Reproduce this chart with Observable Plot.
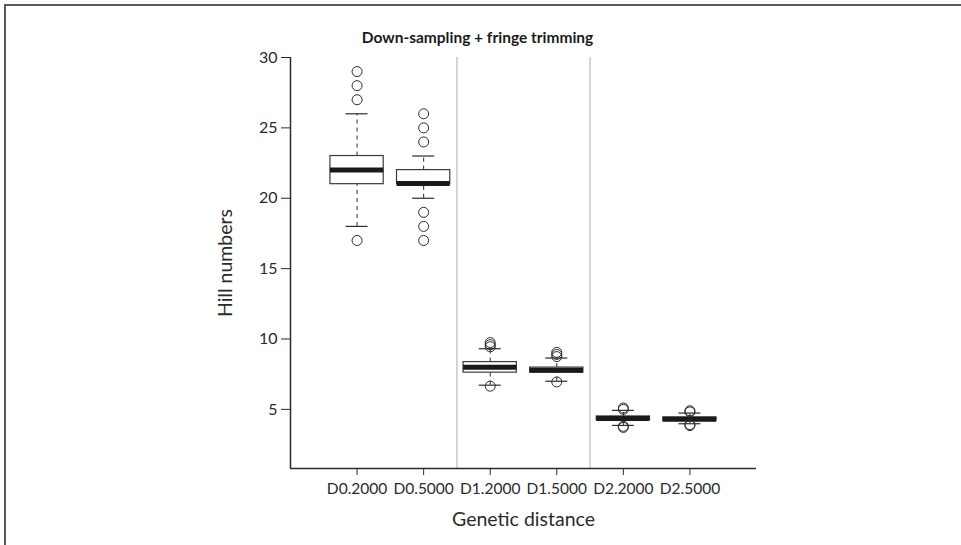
<!DOCTYPE html>
<html>
<head>
<meta charset="utf-8">
<script src="https://cdn.jsdelivr.net/npm/d3@7"></script>
<script src="https://cdn.jsdelivr.net/npm/@observablehq/plot@0.6"></script>
<style>
  html, body { margin: 0; padding: 0; background: #fff; }
  #wrap { position: relative; width: 961px; height: 545px; overflow: hidden; }
  #frame { position: absolute; left: 4px; top: 4px; right: -10px; bottom: -10px;
           border-top: 2px solid #5a5a5a; border-left: 2px solid #5a5a5a; pointer-events: none; }
  #chart { position: absolute; left: 0; top: 0; }
</style>
</head>
<body>
<div id="wrap"><div id="chart"></div><div id="frame"></div></div>
<script>
const titleText = "Down-sampling + fringe trimming";
const xLabel = "Genetic distance";
const yLabel = "Hill numbers";
const categories = ["D0.2000", "D0.5000", "D1.2000", "D1.5000", "D2.2000", "D2.5000"];
const q1 =      [21,   21,   7.61, 7.62, 4.24, 4.17];
const medians = [22,   21.05, 8.0, 7.78, 4.36, 4.3];
const q3 =      [23,   22,   8.36, 7.97, 4.5,  4.43];
const whiskerLow =  [18, 20, 6.72, 7.0,  3.86, 3.98];
const whiskerHigh = [26, 23, 9.31, 8.65, 4.93, 4.74];
const outliers = [
  [29, 28, 27, 17],
  [26, 25, 24, 19, 18, 17],
  [9.45, 9.6, 9.75, 6.65],
  [8.75, 8.9, 9.05, 6.95],
  [5.0, 5.1, 3.8, 3.72],
  [4.82, 4.9, 3.92, 3.85]
];
const yTicks = [5, 10, 15, 20, 25, 30];
const groupBreaks = [2.5, 4.5];
const yDomain = [0.8, 30];

const boxes = categories.map((c, i) => ({
  pos: i + 1, label: c, q1: q1[i], med: medians[i], q3: q3[i],
  lo: whiskerLow[i], hi: whiskerHigh[i]
}));
const outPts = outliers.flatMap((arr, i) => arr.map(v => ({pos: i + 1, v})));

const boxHalf = 0.4, capHalf = 0.165;
const ink = "#2b2b2b";
const font = "Lato, 'Open Sans', sans-serif";

const chart = Plot.plot({
  width: 961,
  height: 545,
  marginLeft: 290,
  marginRight: 205,
  marginTop: 57,
  marginBottom: 77,
  style: {fontFamily: font, color: ink, background: "white", overflow: "visible"},
  x: {type: "linear", domain: [0, 7]},
  y: {type: "linear", domain: yDomain},
  marks: [
    // group separators
    Plot.ruleX(groupBreaks, {x: d => d, y1: yDomain[0], y2: yDomain[1], stroke: "#c8c8c8", strokeWidth: 1.5}),
    // axis lines (bty = "l")
    Plot.ruleX([0], {y1: yDomain[0], y2: yDomain[1], stroke: ink, strokeWidth: 1.5}),
    Plot.ruleY([yDomain[0]], {x1: 0, x2: 7, stroke: ink, strokeWidth: 1.5}),
    // axes
    Plot.axisY({ticks: yTicks, tickSize: 9, tickPadding: 4, fontSize: 16, label: null, stroke: ink, fill: ink}),
    Plot.axisX({ticks: d3.range(1, categories.length + 1), tickFormat: d => categories[d - 1],
                tickSize: 7, tickPadding: 7, fontSize: 15.5, label: null, stroke: ink, fill: ink}),
    // whiskers
    Plot.ruleX(boxes, {x: "pos", y1: "q3", y2: "hi", stroke: ink, strokeWidth: 1, strokeDasharray: "4,4"}),
    Plot.ruleX(boxes, {x: "pos", y1: "lo", y2: "q1", stroke: ink, strokeWidth: 1, strokeDasharray: "4,4"}),
    Plot.ruleY(boxes, {y: "hi", x1: d => d.pos - capHalf, x2: d => d.pos + capHalf, stroke: ink, strokeWidth: 1.2}),
    Plot.ruleY(boxes, {y: "lo", x1: d => d.pos - capHalf, x2: d => d.pos + capHalf, stroke: ink, strokeWidth: 1.2}),
    // boxes
    Plot.rect(boxes, {x1: d => d.pos - boxHalf, x2: d => d.pos + boxHalf, y1: "q1", y2: "q3",
                      fill: "white", stroke: "#3a3a3a", strokeWidth: 1.2}),
    // medians
    Plot.ruleY(boxes, {y: "med", x1: d => d.pos - boxHalf, x2: d => d.pos + boxHalf, stroke: "#1a1a1a", strokeWidth: 5}),
    // outliers
    Plot.dot(outPts, {x: "pos", y: "v", r: 5, stroke: ink, strokeWidth: 1, fill: "none"}),
    // title and axis labels
    Plot.text([titleText], {frameAnchor: "top", dx: -46, dy: -19, lineAnchor: "middle", fontSize: 15.5, fontWeight: "bold", fill: "#1a1a1a"}),
    Plot.text([xLabel], {frameAnchor: "bottom", dy: 51, lineAnchor: "middle", fontSize: 19.5, fill: ink}),
    Plot.text([yLabel], {frameAnchor: "left", dx: -65, rotate: -90, textAnchor: "middle", fontSize: 19.5, fill: ink})
  ]
});
document.getElementById("chart").appendChild(chart);
</script>
</body>
</html>
